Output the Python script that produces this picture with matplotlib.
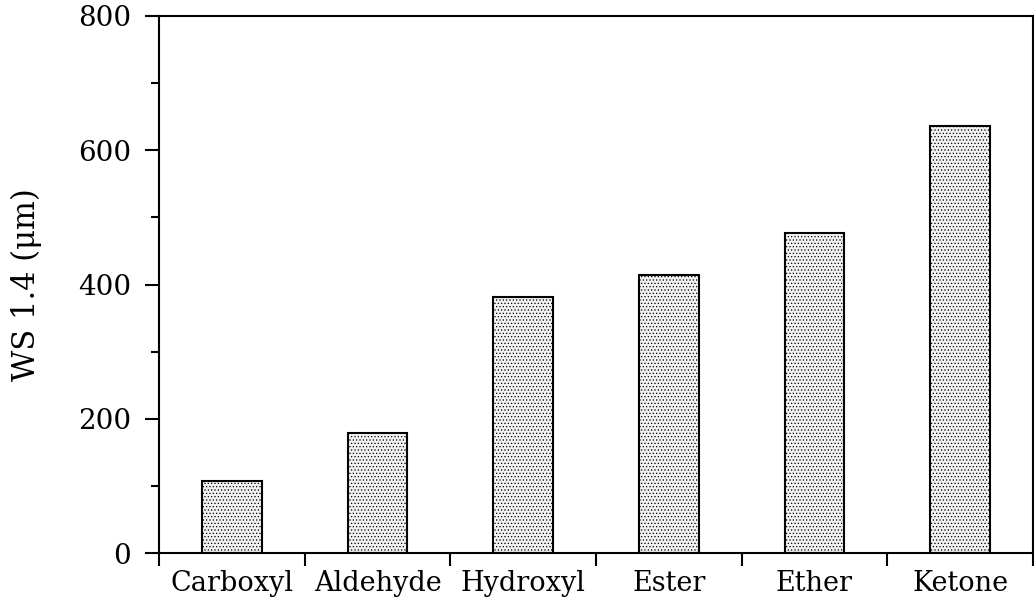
import matplotlib
matplotlib.use('Agg')
import matplotlib.pyplot as plt
import numpy as np
from matplotlib.ticker import MultipleLocator, FixedLocator

categories = ['Carboxyl', 'Aldehyde', 'Hydroxyl', 'Ester', 'Ether', 'Ketone']
ws14 = [107, 179, 381, 414, 477, 636]

plt.rcParams['hatch.color'] = '#c4c4c4'
plt.rcParams['hatch.linewidth'] = 0.5

fig = plt.figure(figsize=(10.34, 6.10), dpi=100)
ax = fig.add_axes([159/1034, 1 - 553/610, (1033 - 159)/1034, (553 - 16)/610])

x = np.arange(len(categories))
ax.bar(x, ws14, width=0.41, facecolor='#f2f2f2', edgecolor='black',
       linewidth=1.5, hatch='.....', zorder=2)

ax.set_xlim(-0.5, len(categories) - 0.5)
ax.set_ylim(0, 800)

ax.yaxis.set_major_locator(MultipleLocator(200))
ax.yaxis.set_minor_locator(MultipleLocator(100))
ax.xaxis.set_major_locator(FixedLocator(x))
ax.xaxis.set_minor_locator(FixedLocator(np.arange(-0.5, len(categories), 1.0)))
ax.set_xticklabels(categories, family='DejaVu Serif', fontsize=19.5)
for lab in ax.get_yticklabels():
    lab.set_family('DejaVu Serif')
ax.tick_params(axis='x', which='major', length=0, pad=12)
ax.tick_params(axis='x', which='minor', length=9, width=1.5, direction='out')
ax.tick_params(axis='y', which='major', length=10, width=1.5, labelsize=20, pad=10)
ax.tick_params(axis='y', which='minor', length=6, width=1.5)

for s in ax.spines.values():
    s.set_linewidth(1.5)

ax.set_ylabel('WS 1.4 (μm)', fontsize=22, family='DejaVu Serif')
ax.yaxis.set_label_coords(-0.134, 0.5)

fig.savefig('out.png', dpi=100)
